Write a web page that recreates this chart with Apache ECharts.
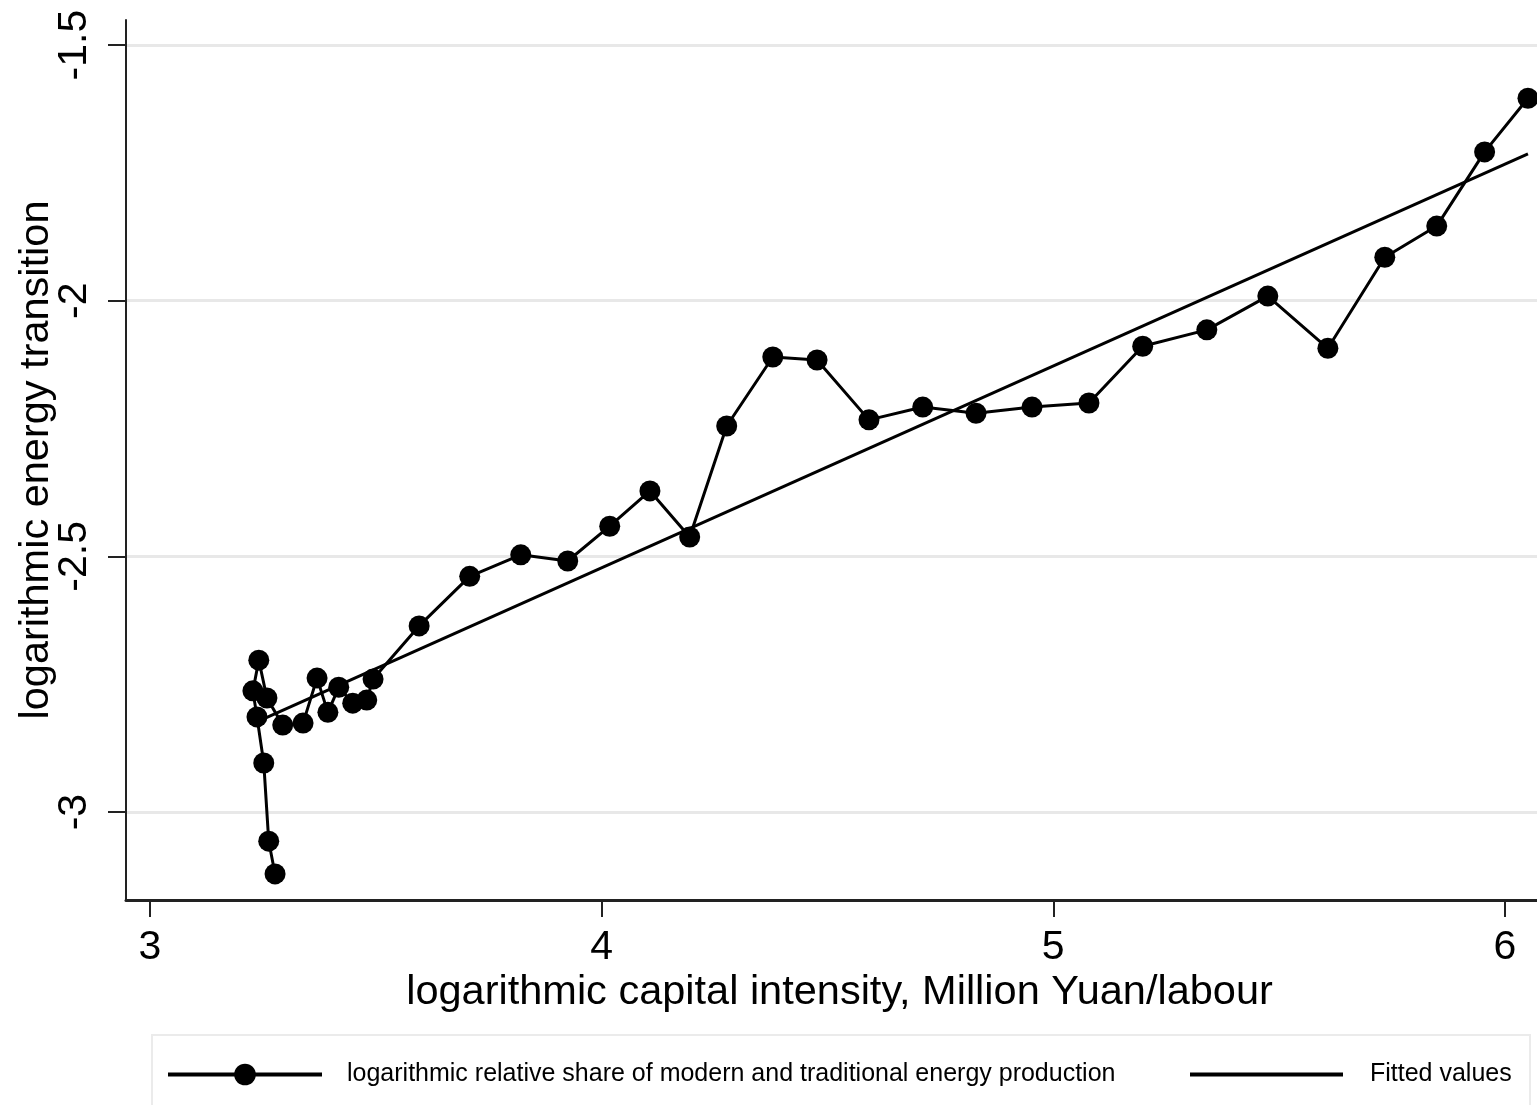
<!DOCTYPE html>
<html>

<head>
  <meta charset="utf-8" />
  <title>Capital intensity and energy transition</title>
  <script src="https://cdn.jsdelivr.net/npm/echarts@6/dist/echarts.min.js"></script>
</head>

<body style="margin:0;background:#fff;">
  <div id="main" style="width:1537px;height:1105px;"></div>
  <script type="text/javascript">

    // Observed values, in data order (log capital intensity, log energy transition)
    let capitalIntensity = [3.277, 3.263, 3.252, 3.237, 3.228, 3.241, 3.259, 3.294, 3.339, 3.370,
      3.394, 3.418, 3.449, 3.480, 3.494, 3.596, 3.708, 3.821, 3.925, 4.018,
      4.107, 4.195, 4.277, 4.379, 4.477, 4.592, 4.711, 4.829, 4.953, 5.079,
      5.198, 5.340, 5.475, 5.608, 5.734, 5.849, 5.955, 6.051];
    let energyTransition = [-3.121, -3.057, -2.904, -2.814, -2.763, -2.703, -2.777, -2.830, -2.826, -2.738,
      -2.805, -2.756, -2.787, -2.781, -2.740, -2.636, -2.539, -2.497, -2.509, -2.441,
      -2.372, -2.462, -2.245, -2.110, -2.116, -2.233, -2.208, -2.220, -2.208, -2.200,
      -2.089, -2.057, -1.991, -2.093, -1.915, -1.854, -1.709, -1.604];

    // Fitted values at the ends of the x range
    let fittedX = [3.228, 6.051];
    let fittedY = [-2.827, -1.713];

    let xTicks = [3, 4, 5, 6];
    let yTicks = [-3, -2.5, -2, -1.5];

    let observed = capitalIntensity.map(function (x, i) { return [x, energyTransition[i]]; });
    let fitted = fittedX.map(function (x, i) { return [x, fittedY[i]]; });

    var chart = echarts.init(document.getElementById('main'));

    var font = '"Liberation Sans", Arial, sans-serif';

    var option = {
      animation: false,
      backgroundColor: '#ffffff',
      textStyle: { fontFamily: font, color: '#000' },
      grid: {
        left: 126,
        right: 0,
        top: 20,
        bottom: 205,
        containLabel: false
      },
      xAxis: {
        type: 'value',
        min: 2.947,
        max: 6.071,
        name: 'logarithmic capital intensity, Million Yuan/labour',
        nameLocation: 'middle',
        nameGap: 72,
        nameMoveOverlap: false,
        nameTextStyle: { fontSize: 41.5, color: '#000', fontFamily: font, padding: [0, 0, 0, 16] },
        axisLine: { onZero: false, lineStyle: { color: '#222', width: 3 } },
        axisTick: { customValues: xTicks, length: 17, lineStyle: { color: '#222', width: 2 } },
        axisLabel: { customValues: xTicks, fontSize: 41, color: '#000', margin: 27, fontFamily: font },
        splitLine: { show: false }
      },
      yAxis: {
        type: 'value',
        min: -3.172,
        max: -1.451,
        name: 'logarithmic energy transition',
        nameLocation: 'middle',
        nameGap: 68,
        nameRotate: 90,
        nameMoveOverlap: false,
        nameTextStyle: { fontSize: 41.5, color: '#000', fontFamily: font },
        axisLine: { onZero: false, lineStyle: { color: '#222', width: 2 } },
        axisTick: { customValues: yTicks, length: 18, lineStyle: { color: '#222', width: 2 } },
        axisLabel: {
          customValues: yTicks,
          rotate: 90,
          fontSize: 41,
          color: '#000',
          margin: 31,
          fontFamily: font,
          formatter: function (v) { return String(v); }
        },
        splitLine: { show: true, lineStyle: { color: '#e8e8e8', width: 3 } }
      },
      graphic: [{
        type: 'rect',
        z: 0,
        shape: { x: 152, y: 1035, width: 1378, height: 100 },
        style: { fill: '#fff', stroke: '#ebebeb', lineWidth: 2 }
      }],
      legend: [
        {
          data: ['logarithmic relative share of modern and traditional energy production'],
          left: 161,
          top: 1057,
          itemWidth: 154,
          itemHeight: 27,
          lineStyle: { width: 4 },
          textStyle: { fontSize: 25, color: '#000', fontFamily: font, padding: [0, 0, 0, 20] }
        },
        {
          data: ['Fitted values'],
          left: 1183,
          top: 1057,
          itemWidth: 153,
          itemHeight: 27,
          lineStyle: { width: 4 },
          itemStyle: { color: 'rgba(0,0,0,0)', borderWidth: 0, opacity: 0 },
          textStyle: { fontSize: 25, color: '#000', fontFamily: font, padding: [0, 0, 0, 22] }
        }
      ],
      series: [
        {
          name: 'logarithmic relative share of modern and traditional energy production',
          type: 'line',
          data: observed,
          symbol: 'circle',
          symbolSize: 21,
          color: '#000',
          lineStyle: { color: '#000', width: 3 },
          itemStyle: { color: '#000' },
          z: 3
        },
        {
          name: 'Fitted values',
          type: 'line',
          data: fitted,
          symbol: 'none',
          color: '#000',
          lineStyle: { color: '#000', width: 3 },
          z: 2
        }
      ]
    };

    chart.setOption(option);
  </script>
</body>

</html>
